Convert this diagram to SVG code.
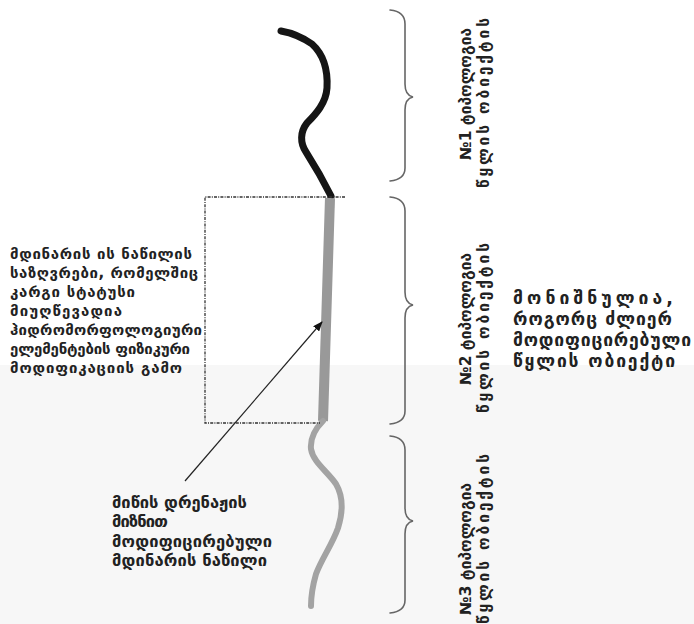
<svg xmlns="http://www.w3.org/2000/svg" width="694" height="624" viewBox="0 0 694 624">
<defs>
<style>
.t{font-family:"DejaVu Sans","Noto Sans",sans-serif;font-weight:bold;fill:#222;}
.l{font-size:15px;}
.r{font-size:17.5px;}
.b{font-size:16.5px;}
.v{font-size:15.5px;}
.brace{fill:none;stroke:#666;stroke-width:1.6;stroke-linecap:round;}
.dot{fill:none;stroke:#333;stroke-width:1.3;stroke-dasharray:3 1.2 1 1.2;}
</style>
<marker id="ah" markerWidth="10" markerHeight="8" refX="9" refY="4" orient="auto" markerUnits="userSpaceOnUse">
<path d="M0,0 L10,4 L0,8 Z" fill="#111"/>
</marker>
</defs>
<rect x="0" y="0" width="694" height="624" fill="#ffffff"/>
<rect x="0" y="365" width="694" height="259" fill="#f7f7f7"/>

<g id="river">
<path d="M281,31 C292,33 302,37 312,44 C323,54 328,70 327,88 C326,103 316,114 307,123 C300,132 300,143 306,152 C313,163 321,176 331,196" fill="none" stroke="#151515" stroke-width="7" stroke-linecap="round" stroke-linejoin="round"/>
<path d="M330,198 L323,421" fill="none" stroke="#999" stroke-width="10"/>
<path d="M323,421 C316,428 310,438 311,449 C313,462 328,472 336,484 C343,496 343,512 338,528 C332,545 322,558 316,574 C312,588 311,598 311,606" fill="none" stroke="#a3a3a3" stroke-width="6" stroke-linecap="round" stroke-linejoin="round"/>
</g>

<g id="stretch-box">
<polyline class="dot" points="345,197 205,197 205,423 320,423"/>
</g>

<g id="braces">
<path class="brace" d="M390,10 C400,11 405,15 405,24 L405,84 C405,92 408,96 413,97 C408,98 405,102 405,110 L405,168 C405,176 400,180 390,181"/>
<path class="brace" d="M390,197 C400,198 405,202 405,211 L405,292 C405,300 408,304 413,305 C408,306 405,310 405,318 L405,411 C405,419 400,423 390,424"/>
<path class="brace" d="M390,436 C400,437 405,441 405,450 L405,508 C405,516 408,520 413,521 C408,522 405,526 405,534 L405,600 C405,608 400,612 390,613"/>
</g>

<g id="connectors">
<line x1="185" y1="481" x2="322" y2="322" stroke="#222" stroke-width="1.2" marker-end="url(#ah)"/>
</g>

<g id="label-left">
<text class="t l" x="10" y="259" textLength="182">მდინარის ის ნაწილის</text>
<text class="t l" x="10" y="278" textLength="188">საზღვრები, რომელშიც</text>
<text class="t l" x="10" y="297" textLength="125">კარგი სტატუსი</text>
<text class="t l" x="10" y="316" textLength="112">მიუღწევადია</text>
<text class="t l" x="10" y="335" textLength="192">ჰიდრომორფოლოგიური</text>
<text class="t l" x="10" y="354" textLength="180">ელემენტების ფიზიკური</text>
<text class="t l" x="10" y="373" textLength="172">მოდიფიკაციის გამო</text>
</g>

<g id="label-right">
<text class="t r" x="513" y="304" textLength="160">მონიშნულია,</text>
<text class="t r" x="513" y="325" textLength="159">როგორც ძლიერ</text>
<text class="t r" x="513" y="346" textLength="178">მოდიფიცირებული</text>
<text class="t r" x="513" y="367" textLength="162">წყლის ობიექტი</text>
</g>

<g id="label-bottom">
<text class="t b" x="112" y="508" textLength="135">მიწის დრენაჟის</text>
<text class="t b" x="112" y="527" textLength="56">მიზნით</text>
<text class="t b" x="112" y="547" textLength="160">მოდიფიცირებული</text>
<text class="t b" x="112" y="566" textLength="155">მდინარის ნაწილი</text>
</g>

<g id="segment-1">
<text class="t v" transform="translate(471,160) rotate(-90)" textLength="132">№1 ტიპოლოგია</text>
<text class="t v" transform="translate(489,188) rotate(-90)" textLength="170">წყლის ობიექტის</text>
</g>
<g id="segment-2">
<text class="t v" transform="translate(471,385) rotate(-90)" textLength="132">№2 ტიპოლოგია</text>
<text class="t v" transform="translate(489,413) rotate(-90)" textLength="170">წყლის ობიექტის</text>
</g>
<g id="segment-3">
<text class="t v" transform="translate(471,615) rotate(-90)" textLength="132">№3 ტიპოლოგია</text>
<text class="t v" transform="translate(489,624) rotate(-90)" textLength="170">წყლის ობიექტის</text>
</g>
</svg>
